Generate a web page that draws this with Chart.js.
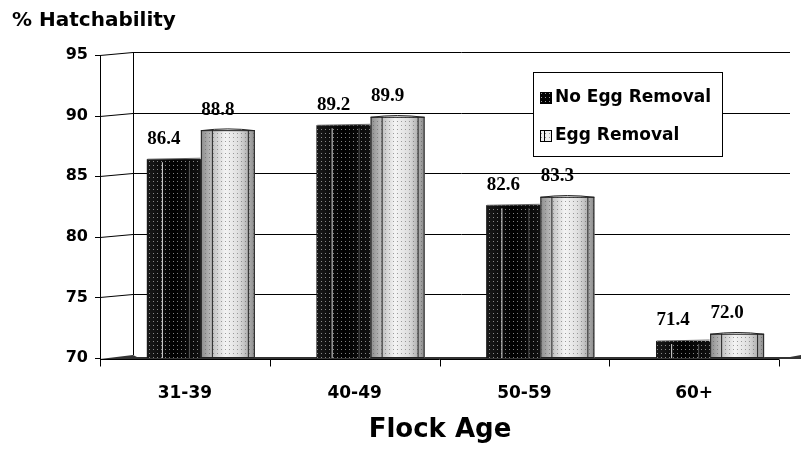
<!DOCTYPE html>
<html>
<head>
<meta charset="utf-8">
<script src="https://cdn.jsdelivr.net/npm/chart.js@4.4.1/dist/chart.umd.min.js"></script>
<style>
html, body { margin: 0; padding: 0; background: #fff; overflow: hidden; }
#wrap { position: relative; width: 801px; height: 473px; }
#top { position: absolute; left: 272px; top: -22px; font: bold 24px "DejaVu Sans", sans-serif; color: #777; line-height: 24px; }
</style>
</head>
<body>
<div id="wrap">
<canvas id="chart" width="801" height="473"></canvas>
<div id="top">Treatment</div>
</div>
<script>
const categories = ["31-39", "40-49", "50-59", "60+"];
const noRemoval = [86.4, 89.2, 82.6, 71.4];
const removal = [88.8, 89.9, 83.3, 72.0];
const seriesNames = ["No Egg Removal", "Egg Removal"];
const yTicks = [70, 75, 80, 85, 90, 95];

const DX = 33, DY = -3;   // 3D depth of the walls

function dotPattern(ctx, color) {
  const c = document.createElement("canvas");
  c.width = 4; c.height = 4;
  const g = c.getContext("2d");
  g.fillStyle = color;
  g.fillRect(1, 1, 1, 1);
  return ctx.createPattern(c, "repeat");
}

const walls = {
  id: "walls",
  beforeDatasetsDraw(chart) {
    const ctx = chart.ctx, y = chart.scales.y;
    const fx = 100, bx = fx + DX, right = 790;
    ctx.save();
    ctx.strokeStyle = "#000";
    ctx.lineWidth = 1;
    const yb = Math.round(y.getPixelForValue(yTicks[0]));
    // floor
    ctx.fillStyle = "#333";
    ctx.beginPath();
    ctx.moveTo(fx, yb + 1);
    ctx.lineTo(bx, yb + DY);
    ctx.lineTo(bx + 4, yb - 1);
    ctx.lineTo(right, yb - 1);
    ctx.lineTo(801, yb - 3);
    ctx.lineTo(801, yb + 1);
    ctx.closePath();
    ctx.fill();
    // gridlines on side and back wall
    yTicks.slice(1).forEach(v => {
      const p = Math.round(y.getPixelForValue(v)) + 0.5;
      ctx.beginPath();
      ctx.moveTo(fx - 5, p);
      ctx.lineTo(fx, p);
      ctx.lineTo(bx, p + DY);
      ctx.lineTo(right, p + DY);
      ctx.stroke();
    });
    ctx.beginPath(); ctx.moveTo(fx - 5, yb + 0.5); ctx.lineTo(fx, yb + 0.5); ctx.stroke();
    const top = Math.round(y.getPixelForValue(yTicks[yTicks.length - 1])) + 0.5;
    ctx.beginPath();
    ctx.moveTo(fx + 0.5, top); ctx.lineTo(fx + 0.5, yb + 1);
    ctx.moveTo(bx + 0.5, top + DY); ctx.lineTo(bx + 0.5, yb + DY);
    ctx.stroke();
    ctx.restore();
  },
  afterDatasetsDraw(chart) {
    const ctx = chart.ctx;
    const darkDots = dotPattern(ctx, "rgba(255,255,255,0.5)");
    const lightDots = dotPattern(ctx, "rgba(90,90,90,0.55)");
    ctx.save();
    chart.data.datasets.forEach((ds, di) => {
      chart.getDatasetMeta(di).data.forEach((bar, i) => {
        const w = bar.width, x0 = bar.x - w / 2, t = bar.y, b = bar.base;
        const g = ctx.createLinearGradient(x0, 0, x0 + w, 0);
        if (di === 0) {
          g.addColorStop(0, "#1a1a1a"); g.addColorStop(0.5, "#000"); g.addColorStop(1, "#111");
        } else {
          g.addColorStop(0, "#8c8c8c"); g.addColorStop(0.18, "#b8b8b8");
          g.addColorStop(0.45, "#f4f4f4"); g.addColorStop(0.7, "#dedede");
          g.addColorStop(0.88, "#b0b0b0"); g.addColorStop(1, "#8a8a8a");
        }
        ctx.fillStyle = g;
        ctx.fillRect(x0, t, w, b - t);
        ctx.fillStyle = di === 0 ? darkDots : lightDots;
        ctx.fillRect(x0, t, w, b - t);
        ctx.lineWidth = 1;
        if (di === 0) {
          ctx.strokeStyle = "#ddd";
          ctx.beginPath(); ctx.moveTo(x0 + 15.5, t + 3); ctx.lineTo(x0 + 15.5, b); ctx.stroke();
          ctx.strokeStyle = "#555";
          ctx.beginPath(); ctx.moveTo(x0 + 42.5, t + 3); ctx.lineTo(x0 + 42.5, b); ctx.stroke();
          ctx.strokeStyle = "#666";
          ctx.beginPath(); ctx.moveTo(x0 + 0.5, t); ctx.lineTo(x0 + w - 0.5, t - 1); ctx.stroke();
        } else {
          ctx.strokeStyle = "#222";
          ctx.beginPath();
          ctx.moveTo(x0 + 11.5, t); ctx.lineTo(x0 + 11.5, b);
          ctx.moveTo(x0 + w - 6.5, t); ctx.lineTo(x0 + w - 6.5, b);
          ctx.stroke();
          ctx.strokeRect(x0 + 0.5, t + 0.5, w - 1, b - t - 1);
          ctx.beginPath(); ctx.moveTo(x0, t + 0.5); ctx.quadraticCurveTo(x0 + w / 2, t - 3, x0 + w, t + 0.5); ctx.stroke();
        }
        // value label
        ctx.fillStyle = "#000";
        ctx.font = 'bold 19px "Liberation Serif", serif';
        ctx.textAlign = "center";
        ctx.textBaseline = "bottom";
        ctx.fillText(ds.data[i].toFixed(1), bar.x - 10, t - 11);
      });
    });
    ctx.restore();
  },
  afterDraw(chart) {
    const ctx = chart.ctx, x = chart.scales.x, a = chart.chartArea;
    ctx.save();
    // front x axis ticks at category boundaries
    ctx.strokeStyle = "#000";
    ctx.lineWidth = 1;
    const yb = Math.round(chart.scales.y.getPixelForValue(yTicks[0])) + 1.5;
    ctx.beginPath();
    ctx.moveTo(100, yb); ctx.lineTo(a.right - 16, yb);
    for (let i = 0; i <= categories.length; i++) {
      const px = Math.round(x.getPixelForValue(i - 0.5) - 16) + 0.5;
      ctx.moveTo(px, yb); ctx.lineTo(px, yb + 7);
    }
    ctx.stroke();
    // titles
    ctx.fillStyle = "#000";
    ctx.textBaseline = "middle";
    ctx.textAlign = "left";
    ctx.font = 'bold 20px "DejaVu Sans", sans-serif';
    ctx.fillText("% Hatchability", 12, 21);
    ctx.textAlign = "center";
    ctx.font = 'bold 26px "DejaVu Sans", sans-serif';
    ctx.fillText("Flock Age", 440, 430);
    // legend
    const lx = 533, ly = 72, lw = 189, lh = 84;
    ctx.fillStyle = "#fff";
    ctx.fillRect(lx, ly, lw, lh);
    ctx.strokeRect(lx + 0.5, ly + 0.5, lw, lh);
    const darkDots = dotPattern(ctx, "rgba(255,255,255,0.6)");
    const lightDots = dotPattern(ctx, "rgba(90,90,90,0.6)");
    chart.data.datasets.forEach((ds, i) => {
      const cy = ly + 26 + i * 38;
      ctx.fillStyle = i === 0 ? "#000" : "#eee";
      ctx.fillRect(lx + 7, cy - 6, 12, 12);
      ctx.fillStyle = i === 0 ? darkDots : lightDots;
      ctx.fillRect(lx + 7, cy - 6, 12, 12);
      ctx.strokeStyle = "#000";
      ctx.strokeRect(lx + 7.5, cy - 5.5, 11, 11);
      ctx.beginPath(); ctx.moveTo(lx + 11.5, cy - 6); ctx.lineTo(lx + 11.5, cy + 6); ctx.stroke();
      ctx.fillStyle = "#000";
      ctx.textAlign = "left";
      ctx.font = 'bold 17px "DejaVu Sans", sans-serif';
      ctx.fillText(ds.label, lx + 22, cy);
    });
    ctx.restore();
  }
};

new Chart(document.getElementById("chart"), {
  type: "bar",
  data: {
    labels: categories,
    datasets: [
      { label: seriesNames[0], data: noRemoval, backgroundColor: "#000", base: yTicks[0] },
      { label: seriesNames[1], data: removal, backgroundColor: "#ddd", base: yTicks[0] }
    ]
  },
  options: {
    responsive: false,
    animation: false,
    devicePixelRatio: 1,
    layout: { padding: { top: 55, right: 6, left: 0, bottom: 0 } },
    categoryPercentage: 0.636,
    barPercentage: 1,
    plugins: { legend: { display: false }, tooltip: { enabled: false } },
    scales: {
      x: {
        grid: { display: false, drawTicks: false },
        border: { display: false },
        afterFit: s => { s.height = 115; },
        ticks: { labelOffset: -16, padding: 25, color: "#000", font: { family: "DejaVu Sans", weight: "bold", size: 17 } }
      },
      y: {
        min: 70, max: 95,
        afterFit: s => { s.width = 116; },
        afterBuildTicks: s => { s.ticks = yTicks.map(v => ({ value: v })); },
        grid: { display: false, drawTicks: false },
        border: { display: false },
        ticks: { padding: 28, color: "#000", font: { family: "DejaVu Sans", weight: "bold", size: 16 } }
      }
    }
  },
  plugins: [walls]
});
</script>
</body>
</html>
